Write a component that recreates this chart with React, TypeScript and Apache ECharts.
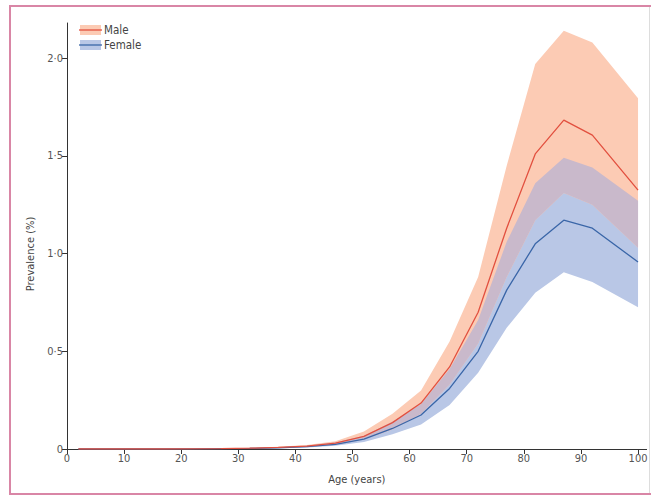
import React, { useEffect, useRef } from "react";
import * as echarts from "echarts";

const ages = [2, 7, 12, 17, 22, 27, 32, 37, 42, 47, 52, 57, 62, 67, 72, 77, 82, 87, 92, 100];
const maleMean = [0, 0, 0, 0, 0.001, 0.002, 0.004, 0.008, 0.015, 0.03, 0.065, 0.135, 0.235, 0.42, 0.7, 1.13, 1.51, 1.683, 1.606, 1.325];
const maleLower = [0, 0, 0, 0, 0.001, 0.001, 0.003, 0.006, 0.011, 0.022, 0.048, 0.1, 0.18, 0.33, 0.54, 0.88, 1.17, 1.31, 1.25, 1.03];
const maleUpper = [0, 0, 0, 0, 0.001, 0.003, 0.006, 0.011, 0.02, 0.04, 0.09, 0.18, 0.3, 0.55, 0.88, 1.45, 1.97, 2.14, 2.08, 1.795];
const femaleMean = [0, 0, 0, 0, 0.001, 0.002, 0.003, 0.006, 0.012, 0.024, 0.05, 0.105, 0.174, 0.31, 0.5, 0.813, 1.05, 1.171, 1.13, 0.957];
const femaleLower = [0, 0, 0, 0, 0.0005, 0.001, 0.002, 0.004, 0.008, 0.017, 0.036, 0.075, 0.125, 0.225, 0.39, 0.62, 0.8, 0.905, 0.855, 0.726];
const femaleUpper = [0, 0, 0, 0, 0.001, 0.003, 0.005, 0.009, 0.017, 0.033, 0.068, 0.14, 0.23, 0.41, 0.66, 1.06, 1.36, 1.49, 1.44, 1.27];

const xTicks = [0, 10, 20, 30, 40, 50, 60, 70, 80, 90, 100];
const yTicks = [0, 0.5, 1, 1.5, 2];
const legendNames = ["Male", "Female"];

const FONT = "'Liberation Sans Narrow', 'DejaVu Sans Condensed', 'Liberation Sans', sans-serif";
const MALE_BAND = "#fccbb4";
const FEMALE_BAND = "#b9c7e6";
const OVERLAP_BAND = "#c9b9cb";
const MALE_LINE = "#e2503f";
const FEMALE_LINE = "#3a66a8";

function pairs(ys: number[]) {
  return ages.map((a, i) => [a, ys[i]]);
}

function bandSeries(lower: number[], upper: number[], color: string) {
  return {
    type: "custom",
    silent: true,
    data: [[0, 0]],
    renderItem: (_params: any, api: any) => {
      const pts: number[][] = [];
      for (let i = 0; i < ages.length; i++) pts.push(api.coord([ages[i], upper[i]]));
      for (let i = ages.length - 1; i >= 0; i--) pts.push(api.coord([ages[i], lower[i]]));
      return {
        type: "polygon",
        shape: { points: pts },
        style: { fill: color, stroke: "none" },
      };
    },
  };
}

export default function App() {
  const ref = useRef<HTMLDivElement>(null);
  useEffect(() => {
    if (!ref.current) return;
    const chart = echarts.init(ref.current, undefined, { renderer: "svg" });
    const overlapLower = ages.map((_, i) => Math.max(maleLower[i], femaleLower[i]));
    const overlapUpper = ages.map((_, i) => Math.max(overlapLower[i], Math.min(maleUpper[i], femaleUpper[i])));
    const fmt = (v: number) => (v === 0 ? "0" : v.toFixed(1).replace(".", "·"));
    chart.setOption({
      animation: false,
      backgroundColor: "#ffffff",
      grid: { left: 67, right: 4.4, top: 23, bottom: 48 },
      xAxis: {
        type: "value",
        min: 0,
        max: 101.5,
        name: "Age (years)",
        nameLocation: "middle",
        nameGap: 25,
        nameTextStyle: { color: "#444", fontSize: 11, fontFamily: FONT },
        splitLine: { show: false },
        axisLine: { show: true, lineStyle: { color: "#333", width: 1 } },
        axisTick: { show: true, length: 5, customValues: xTicks, lineStyle: { color: "#333" } },
        axisLabel: {
          customValues: xTicks,
          color: "#555",
          fontSize: 11,
          fontFamily: FONT,
          margin: 4,
          formatter: (v: number) => String(v),
        },
      },
      yAxis: {
        type: "value",
        min: 0,
        max: 2.18,
        splitLine: { show: false },
        axisLine: { show: true, lineStyle: { color: "#333", width: 1 } },
        axisTick: { show: true, length: 5, customValues: yTicks, lineStyle: { color: "#333" } },
        axisLabel: {
          customValues: yTicks,
          color: "#555",
          fontSize: 11,
          fontFamily: FONT,
          margin: 4,
          formatter: fmt,
        },
      },
      graphic: [
        {
          type: "rect",
          shape: { x: 10, y: 6, width: 660, height: 488 },
          style: { fill: "none", stroke: "#d986a6", lineWidth: 2 },
          silent: true,
        },
        {
          type: "line",
          shape: { x1: 649.5, y1: 7, x2: 649.5, y2: 493 },
          style: { stroke: "#dddddd", lineWidth: 1 },
          silent: true,
        },
        {
          type: "text",
          x: 30,
          y: 254,
          rotation: Math.PI / 2,
          style: {
            text: "Prevalence (%)",
            fill: "#444",
            fontSize: 11,
            fontFamily: FONT,
            align: "center",
            verticalAlign: "middle",
          },
        },
        { type: "rect", shape: { x: 80, y: 25, width: 21, height: 10 }, style: { fill: MALE_BAND } },
        { type: "line", shape: { x1: 79, y1: 30, x2: 102, y2: 30 }, style: { stroke: MALE_LINE, lineWidth: 1.3 } },
        {
          type: "text",
          x: 104,
          y: 30,
          style: { text: legendNames[0], fill: "#444", fontSize: 11.5, fontFamily: FONT, verticalAlign: "middle" },
        },
        { type: "rect", shape: { x: 80, y: 40, width: 21, height: 10 }, style: { fill: FEMALE_BAND } },
        { type: "line", shape: { x1: 79, y1: 45, x2: 102, y2: 45 }, style: { stroke: FEMALE_LINE, lineWidth: 1.3 } },
        {
          type: "text",
          x: 104,
          y: 45,
          style: { text: legendNames[1], fill: "#444", fontSize: 11.5, fontFamily: FONT, verticalAlign: "middle" },
        },
      ],
      series: [
        bandSeries(femaleLower, femaleUpper, FEMALE_BAND),
        bandSeries(maleLower, maleUpper, MALE_BAND),
        bandSeries(overlapLower, overlapUpper, OVERLAP_BAND),
        {
          type: "line",
          name: "Female",
          data: pairs(femaleMean),
          symbol: "none",
          lineStyle: { color: FEMALE_LINE, width: 1.3 },
        },
        {
          type: "line",
          name: "Male",
          data: pairs(maleMean),
          symbol: "none",
          lineStyle: { color: MALE_LINE, width: 1.3 },
        },
      ],
    });
    return () => chart.dispose();
  }, []);
  return (
    <div
      ref={ref}
      style={{ position: "fixed", left: 0, top: 0, width: 651, height: 497, background: "#fff" }}
    />
  );
}
